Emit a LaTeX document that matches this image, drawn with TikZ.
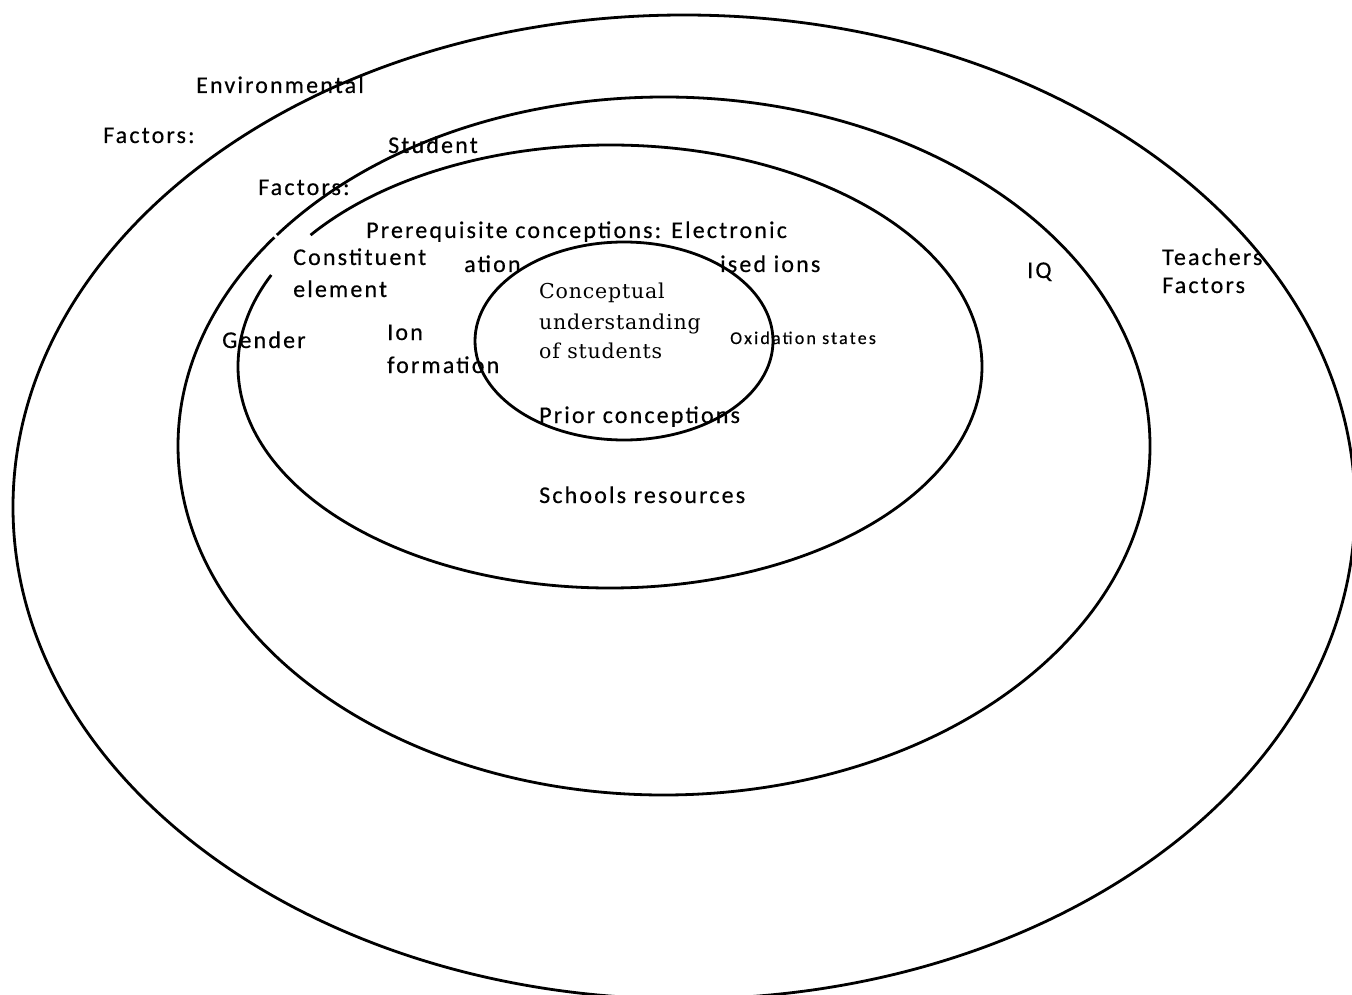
\documentclass[tikz,border=0pt]{standalone}
\usepackage{fontspec}
\setmainfont{Carlito}[LetterSpace=9, FakeBold=0.4]
\newfontfamily\oxidface{Carlito}[LetterSpace=12, FakeBold=0.3]
\newfontfamily\centreface{DejaVu Serif}[LetterSpace=4]

\begin{document}
\begin{tikzpicture}[x=1pt, y=-1pt,
  ring/.style={line width=2.8pt, black},
  lbl/.style={anchor=base west, inner sep=0pt, font=\fontsize{24}{29}\selectfont},
  corelbl/.style={anchor=base west, inner sep=0pt, font=\centreface\fontsize{20.5}{24}\selectfont},
  oxidlbl/.style={anchor=base west, inner sep=0pt, font=\oxidface\fontsize{18}{22}\selectfont}]
% ring sizes, in pixels of the page
\def\envRX{671}
\def\envRY{492}
\def\studRX{486}
\def\studRY{349}
\def\preRX{372}
\def\preRY{221.5}
\def\coreRX{149}
\def\coreRY{99}

\clip (0,0) rectangle (1352,995);
\fill[white] (0,0) rectangle (1352,995);

\coordinate (envO) at (684,507);
\coordinate (studO) at (664,446);
\coordinate (preO) at (610,366.5);
\coordinate (coreO) at (624,341);

% the four rings, two of them broken at the upper left
\draw[ring] (envO) ellipse [x radius=\envRX, y radius=\envRY];
\draw[ring] (studO) ++(217.2:486 and 349)
  arc [start angle=217.2, end angle=576.7, x radius=\studRX, y radius=\studRY];
\draw[ring] (preO) ++(216.4:372 and 221.5)
  arc [start angle=216.4, end angle=564.4, x radius=\preRX, y radius=\preRY];
\draw[ring, fill=white] (coreO) ellipse [x radius=\coreRX, y radius=\coreRY];

% outer ring
\node[lbl] (envA) at (196,93) {Environmental};
\node[lbl] (envB) at (103,143) {Factors:};
\node[lbl] (teachA) at (1162,265) {Teachers};
\node[lbl] (teachB) at (1162,293) {Factors};

% student ring
\node[lbl] (studA) at (388,153) {Student};
\node[lbl] (studB) at (258,195) {Factors:};
\node[lbl] (iq) at (1027,278) {IQ};
\node[lbl] (gender) at (222,348) {Gender};

% prerequisite ring
\node[lbl] (prereq) at (366,238) {Prerequisite conceptions: Electronic};
\node[lbl] (constA) at (293,265) {Constituent};
\node[lbl] (constB) at (293,297) {element};
\node[lbl] (ation) at (464,272) {ation};
\node[lbl] (ionised) at (720,272) {ised ions};
\node[lbl] (ionA) at (387,340) {Ion};
\node[lbl] (ionB) at (387,373) {formation};
\node[oxidlbl] (oxid) at (730,344) {Oxidation states};
\node[lbl] (prior) at (539,423) {Prior conceptions};
\node[lbl] (school) at (539,503) {Schools resources};

% centre
\node[corelbl] (coreA) at (539,298) {Conceptual};
\node[corelbl] (coreB) at (539,329) {understanding};
\node[corelbl] (coreD) at (539,358) {of students};
\end{tikzpicture}
\end{document}
